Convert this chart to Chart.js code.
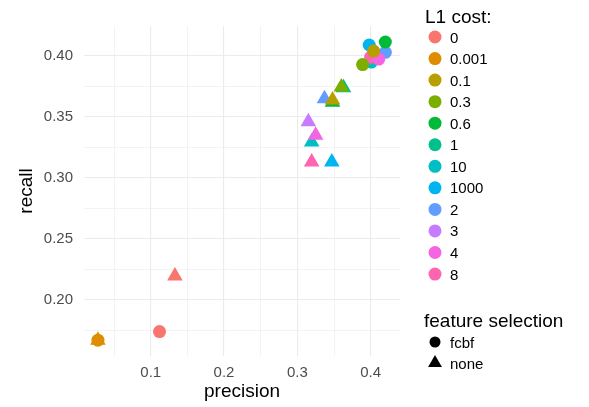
<!DOCTYPE html>
<html>
<head>
<meta charset="utf-8">
<script src="https://cdn.jsdelivr.net/npm/chart.js@4"></script>
<style>
  html, body { margin: 0; padding: 0; background: #fff; }
  #wrap { width: 589px; height: 407px; }
</style>
</head>
<body>
<div id="wrap"><canvas id="chart" width="589" height="407"></canvas></div>
<script>
// L1 cost levels and ggplot hue colours
const costLevels = ["0", "0.001", "0.1", "0.3", "0.6", "1", "10", "1000", "2", "3", "4", "8"];
const costColors = ["#F8766D", "#DE8C00", "#B79F00", "#7CAE00", "#00BA38", "#00C08B",
                    "#00BFC4", "#00B4F0", "#619CFF", "#C77CFF", "#F564E3", "#FF64B0"];

// feature selection = fcbf (circles)
const precisionFcbf = [0.112, 0.028, 0.404, 0.389, 0.420, 0.405, 0.401, 0.398, 0.420, 0.407, 0.411, 0.400];
const recallFcbf    = [0.174, 0.167, 0.404, 0.393, 0.4115, 0.399, 0.395, 0.409, 0.403, 0.400, 0.3975, 0.399];

// feature selection = none (triangles)
const precisionNone = [0.133, 0.028, 0.348, 0.360, 0.348, 0.363, 0.3195, 0.347, 0.337, 0.315, 0.325, 0.3195];
const recallNone    = [0.2195, 0.167, 0.364, 0.3746, 0.362, 0.374, 0.3295, 0.313, 0.365, 0.346, 0.335, 0.313];

const featureLevels = ["fcbf", "none"];

// which level sits on top where marks overlap (0 = top)
const stacking = [1, 0, 3, 2, 4, 10, 11, 8, 7, 9, 5, 6];

// axis ticks (majors labelled, minors only as grid)
const xTicks = [0.05, 0.1, 0.15, 0.2, 0.25, 0.3, 0.35, 0.4];
const xLabels = ["", "0.1", "", "0.2", "", "0.3", "", "0.4"];
const yTicks = [0.175, 0.2, 0.225, 0.25, 0.275, 0.3, 0.325, 0.35, 0.375, 0.4];
const yLabels = ["", "0.20", "", "0.25", "", "0.30", "", "0.35", "", "0.40"];

const FONT = "'Liberation Sans', Arial, sans-serif";

const datasets = costLevels.map((lvl, i) => ({
    label: lvl,
    data: [
        { x: precisionFcbf[i], y: recallFcbf[i] },
        { x: precisionNone[i], y: recallNone[i] }
    ],
    backgroundColor: costColors[i],
    borderWidth: 0,
    pointStyle: ["circle", "triangle"],
    pointRadius: [6.5, 9],
    order: stacking[i]
}));

// ggplot-style legends drawn to the right of the panel
const legendPlugin = {
    id: "ggLegend",
    afterDraw(chart) {
        const ctx = chart.ctx;
        ctx.save();
        ctx.fillStyle = "#000";
        ctx.textAlign = "left";
        ctx.textBaseline = "alphabetic";
        ctx.font = "19px " + FONT;
        ctx.fillText("L1 cost:", 425, 23);
        ctx.font = "15px " + FONT;
        costLevels.forEach((lvl, i) => {
            const cy = 37 + i * 21.55;
            ctx.fillStyle = costColors[i];
            ctx.beginPath();
            ctx.arc(435, cy, 6.5, 0, Math.PI * 2);
            ctx.fill();
            ctx.fillStyle = "#000";
            ctx.fillText(lvl, 450, cy + 5.5);
        });

        ctx.font = "19px " + FONT;
        ctx.fillText("feature selection", 424, 327);
        ctx.font = "15px " + FONT;
        // fcbf
        ctx.beginPath();
        ctx.arc(435, 342, 5.5, 0, Math.PI * 2);
        ctx.fill();
        ctx.fillText(featureLevels[0], 450, 347.5);
        // none
        const r = 8, cy = 363;
        ctx.beginPath();
        ctx.moveTo(435, cy - r);
        ctx.lineTo(435 + r * Math.sin(2 * Math.PI / 3), cy + r / 2);
        ctx.lineTo(435 - r * Math.sin(2 * Math.PI / 3), cy + r / 2);
        ctx.closePath();
        ctx.fill();
        ctx.fillText(featureLevels[1], 450, 368.5);
        ctx.restore();
    }
};

new Chart(document.getElementById("chart"), {
    type: "scatter",
    data: { datasets },
    options: {
        responsive: false,
        animation: false,
        layout: { padding: { left: 0, right: 189, top: 26, bottom: 0 } },
        plugins: { legend: { display: false }, tooltip: { enabled: false } },
        scales: {
            x: {
                type: "linear",
                min: 0.009,
                max: 0.44,
                afterBuildTicks: s => { s.ticks = xTicks.map(v => ({ value: v })); },
                afterFit: s => { s.height = 51; },
                grid: {
                    color: "#EBEBEB",
                    lineWidth: c => (c.index % 2 === 1 ? 1.1 : 0.6),
                    drawTicks: false
                },
                border: { display: false },
                ticks: {
                    color: "#4D4D4D",
                    font: { family: FONT, size: 15 },
                    padding: 8,
                    maxRotation: 0,
                    autoSkip: false,
                    callback: (v, i) => xLabels[i]
                },
                title: {
                    display: true,
                    text: "precision",
                    color: "#000",
                    font: { family: FONT, size: 19 },
                    padding: { top: 0, bottom: 4 }
                }
            },
            y: {
                type: "linear",
                min: 0.154,
                max: 0.4246,
                afterBuildTicks: s => { s.ticks = yTicks.map(v => ({ value: v })); },
                afterFit: s => { s.width = 84; },
                grid: {
                    color: "#EBEBEB",
                    lineWidth: c => (c.index % 2 === 1 ? 1.1 : 0.6),
                    drawTicks: false
                },
                border: { display: false },
                ticks: {
                    color: "#4D4D4D",
                    font: { family: FONT, size: 15 },
                    padding: 11,
                    autoSkip: false,
                    callback: (v, i) => yLabels[i]
                },
                title: {
                    display: true,
                    text: "recall",
                    color: "#000",
                    font: { family: FONT, size: 19 },
                    padding: { top: 15, bottom: 0 }
                }
            }
        }
    },
    plugins: [legendPlugin]
});
</script>
</body>
</html>
